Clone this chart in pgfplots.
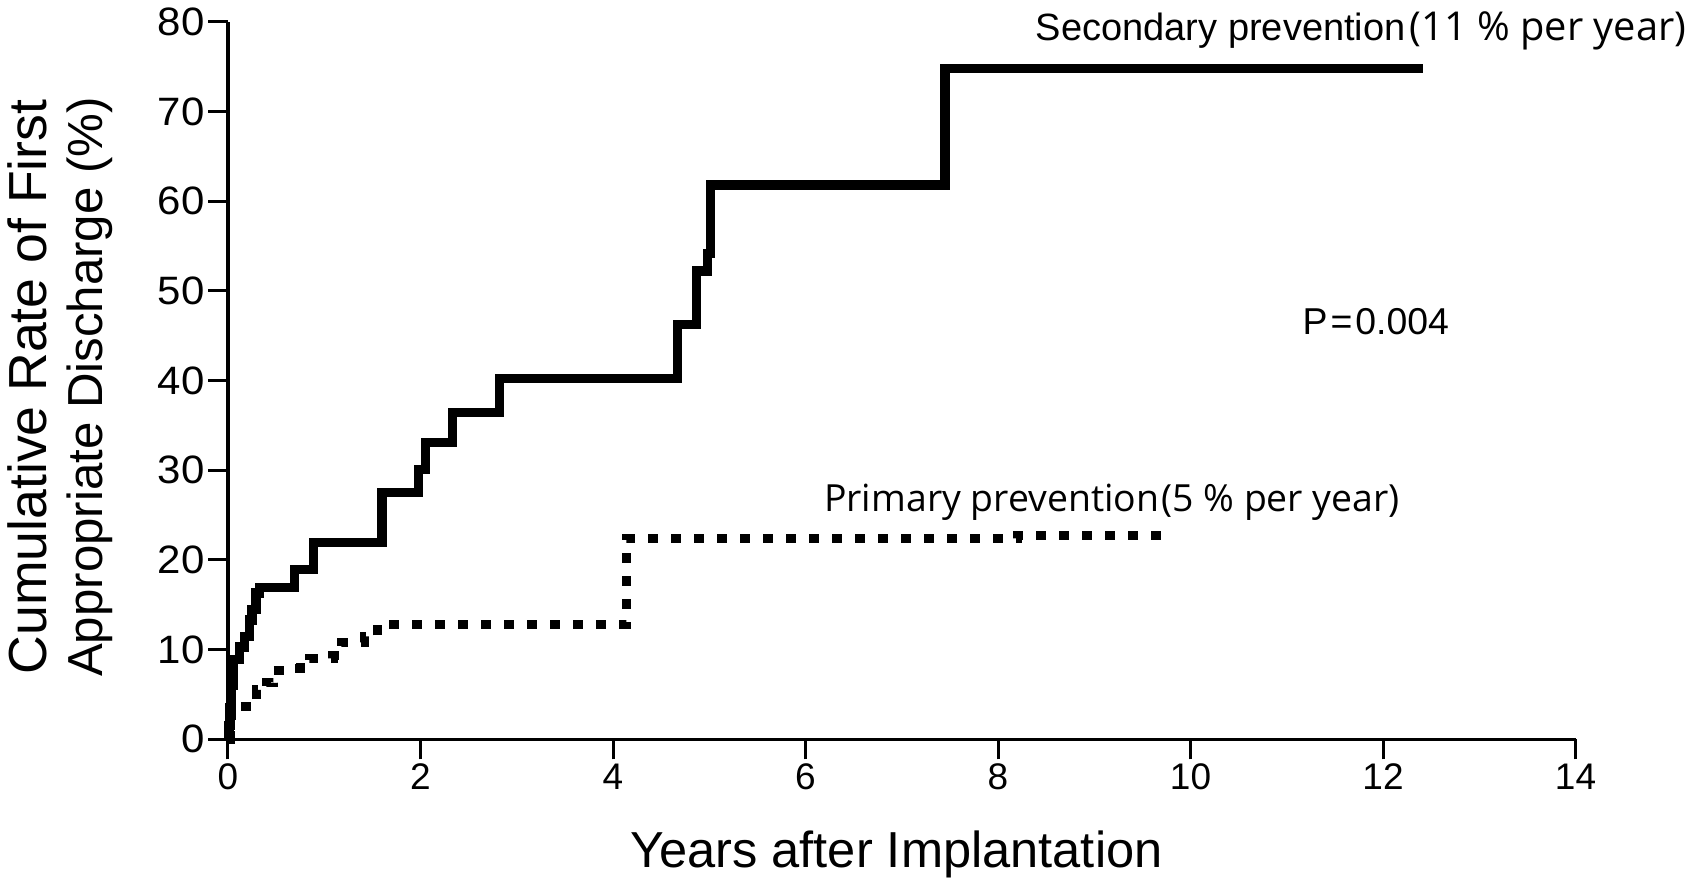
\documentclass[border=0pt]{standalone}
\usepackage{pgfplots}
\pgfplotsset{compat=1.18}
\usepackage{fontspec}
\setmainfont{Liberation Sans}
\newfontfamily\widefont[FakeStretch=1.06]{Liberation Sans}
\newfontfamily\notefont{Open Sans}

% Kaplan-Meier style step data: (years, cumulative %)
\newcommand{\secondarydata}{
(0,0) (0.01,1.5) (0.02,3.5) (0.04,6) (0.06,8.9) (0.12,10.3) (0.17,11.5)
(0.22,13.3) (0.25,14.5) (0.29,16.3) (0.33,16.9) (0.69,18.9) (0.89,21.9)
(1.60,27.5) (1.98,30.1) (2.05,33.1) (2.33,36.4) (2.82,40.2) (4.67,46.2)
(4.87,52.2) (4.98,54.2) (5.01,61.8) (7.45,74.8) (12.42,74.8)}
\newcommand{\primarydata}{
(0,0) (0.02,1.5) (0.04,3.7) (0.30,5.5) (0.40,6.3) (0.47,7.7) (0.66,7.9)
(0.75,8.6) (0.85,9.0) (1.09,9.3) (1.18,10.8) (1.42,11.5) (1.55,12.8)
(4.14,22.4) (8.20,22.7) (9.69,22.7)}

\begin{document}
\begin{tikzpicture}
\useasboundingbox (-114pt,-71.35pt) rectangle (739pt,369.65pt);
\begin{axis}[
  scale only axis,
  width=673.75pt, height=358.8pt,
  xmin=0, xmax=14, ymin=0, ymax=80,
  axis lines=left,
  axis line style={-, line width=1.6pt},
  xtick={0,2,...,14}, ytick={0,10,...,80},
  tick align=outside,
  major tick length=10pt,
  tick style={line width=1.5pt, black},
  /pgf/number format/assume math mode=true,
  xticklabel style={font=\fontsize{18.5}{20}\selectfont, inner sep=2pt},
  yticklabel style={font=\widefont\fontsize{19.8}{21}\selectfont, inner sep=1.5pt},
  every axis x label/.style={at={(axis description cs:0.496,-0.16)}, anchor=center,
    font=\fontsize{25.3}{27}\selectfont},
  every axis y label/.style={at={(axis description cs:-0.1243,0.491)}, rotate=90,
    anchor=center, align=center, font=\fontsize{26.8}{28}\selectfont},
  xlabel={Years after Implantation},
  ylabel={Cumulative Rate of First\\{\fontsize{24.6}{28}\selectfont Appropriate Discharge (\%)}},
  clip=false,
]
\addplot[const plot, black, line width=4.6pt, line join=miter] coordinates {\secondarydata};
\addplot[const plot, black, line width=4.6pt, line cap=butt,
  dash pattern=on 5pt off 6.5pt] coordinates {\primarydata};

\node[anchor=base west, inner sep=0pt] at (axis cs:8.39,77.85)
  {\fontsize{19}{20}\selectfont Secondary prevention\hspace{2pt}{\notefont\fontsize{19.9}{21}\selectfont(11 \% per year)}};
\node[anchor=base west, inner sep=0pt] at (axis cs:6.19,25.45)
  {\notefont\fontsize{18.7}{20}\selectfont Primary prevention\hspace{1pt}(5 \% per year)};
\node[anchor=base west, inner sep=0pt] at (axis cs:11.16,45.1)
  {\fontsize{18.7}{20}\selectfont P\hspace{1.5pt}=\hspace{1.5pt}0.004};
\end{axis}
\end{tikzpicture}
\end{document}
